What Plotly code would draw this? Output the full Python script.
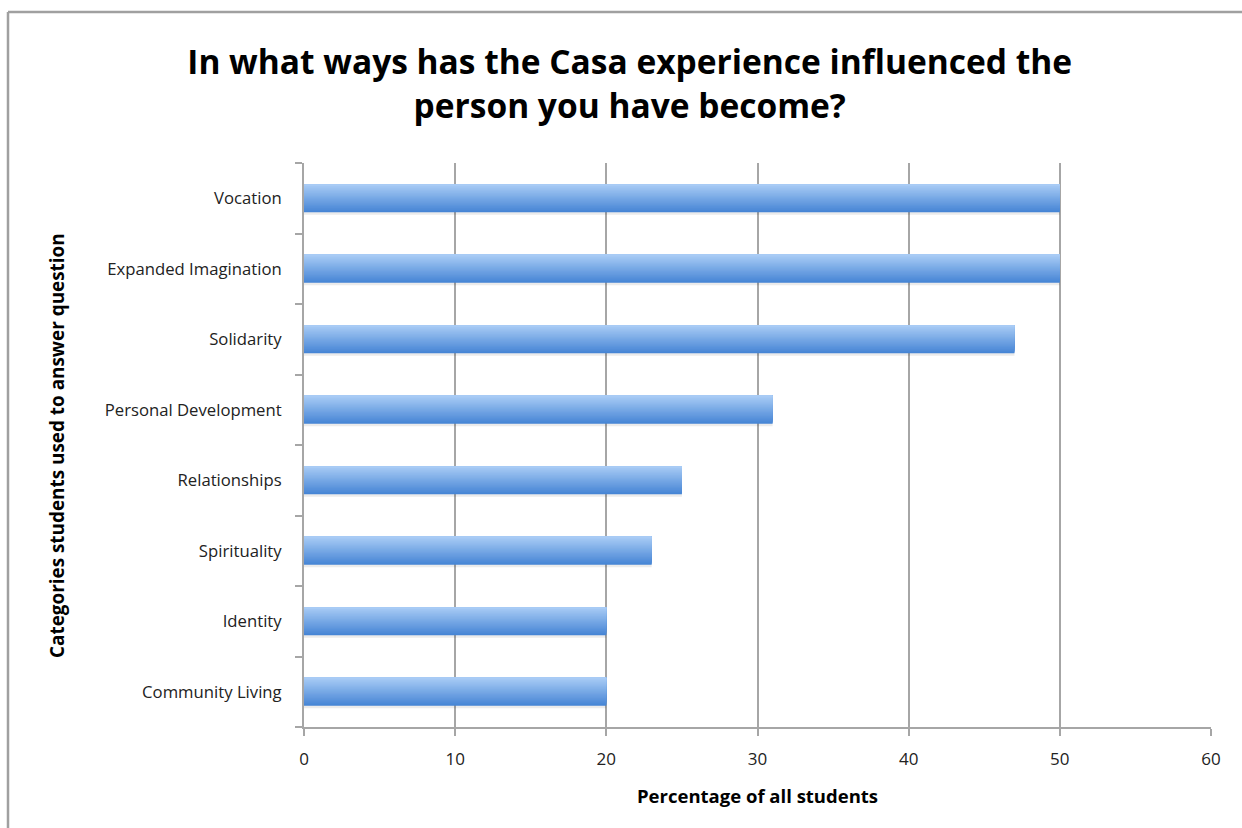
import plotly.graph_objects as go

# Survey categories (top to bottom as displayed) and share of students
categories = ["Vocation", "Expanded Imagination", "Solidarity", "Personal Development",
              "Relationships", "Spirituality", "Identity", "Community Living"]
percentages = [50, 50, 47, 31, 25, 23, 20, 20]
x_ticks = [0, 10, 20, 30, 40, 50, 60]

# plot bottom-up so the first category sits at the top
cats_bu = categories[::-1]
vals_bu = percentages[::-1]

# plot area geometry in page pixels
W, H = 1242, 828
M_L, M_R, M_T, M_B = 304, 31, 163, 101
plot_w = W - M_L - M_R
plot_h = H - M_T - M_B


def px_x(p):
    return (p - M_L) / plot_w


def px_y(p):
    return (H - M_B - p) / plot_h


fig = go.Figure()

bar_w = 0.4
# soft drop shadow beneath each bar
fig.add_trace(go.Bar(
    y=cats_bu, x=vals_bu, orientation="h",
    width=bar_w, offset=-bar_w / 2 - 0.035,
    marker=dict(color="rgba(0,0,0,0.08)", line=dict(width=0)),
    hoverinfo="skip", showlegend=False,
))

# vertical gradient: overlapping layers, each lighter one covering the upper part
bottom_rgb = (70, 133, 213)
top_rgb = (168, 203, 245)
n_bands = 24
band = bar_w / n_bands
for i in range(n_bands):
    t = i / (n_bands - 1)
    r, g, b = (round(bottom_rgb[k] + (top_rgb[k] - bottom_rgb[k]) * t) for k in range(3))
    fig.add_trace(go.Bar(
        y=cats_bu, x=vals_bu, orientation="h",
        width=bar_w - i * band, offset=-bar_w / 2 + i * band,
        marker=dict(color=f"rgb({r},{g},{b})", line=dict(width=0)),
        hoverinfo="skip", showlegend=False,
    ))

grey = "#a6a6a6"
fig.update_layout(
    width=W, height=H,
    barmode="overlay",
    paper_bgcolor="white", plot_bgcolor="white",
    margin=dict(l=M_L, r=M_R, t=M_T, b=M_B),
    font=dict(family="Open Sans", color="#222222"),
    title=dict(
        text="In what ways has the Casa experience influenced the<br>person you have become?",
        x=0.507, xanchor="center", y=0.9105, yanchor="middle",
        font=dict(family="Open Sans", size=33.5, color="black", weight="bold"),
    ),
    xaxis=dict(
        range=[0, 60], tickvals=x_ticks, ticktext=[str(v) for v in x_ticks],
        showgrid=True, gridcolor=grey, gridwidth=1.5,
        showline=True, linecolor=grey, linewidth=2,
        ticks="outside", ticklen=7, tickcolor=grey, tickwidth=1.5,
        tickfont=dict(size=17, color="#222222"),
        ticklabelstandoff=9,
        zeroline=False,
    ),
    yaxis=dict(
        type="category", categoryorder="array", categoryarray=cats_bu,
        showgrid=False, showline=True, linecolor=grey, linewidth=2,
        ticks="outside", tickson="boundaries", ticklen=7,
        tickcolor=grey, tickwidth=1.5,
        tickfont=dict(size=16.7, color="#222222"),
        ticklabelstandoff=17,
        range=[-0.5, 7.5],
    ),
    annotations=[
        dict(text="Categories students used to answer question",
             xref="paper", yref="paper",
             x=px_x(57), y=px_y(446), xanchor="center", yanchor="middle",
             textangle=-90, showarrow=False,
             font=dict(size=18.9, color="black", weight="bold")),
        dict(text="Percentage of all students",
             xref="paper", yref="paper",
             x=px_x(757), y=px_y(795), xanchor="center", yanchor="middle",
             showarrow=False,
             font=dict(size=18.5, color="black", weight="bold")),
    ],
    # outer frame edges (left and top)
    shapes=[
        dict(type="line", xref="paper", yref="paper",
             x0=px_x(8), x1=px_x(W), y0=px_y(12), y1=px_y(12),
             line=dict(color="#a0a0a0", width=2.5)),
        dict(type="line", xref="paper", yref="paper",
             x0=px_x(8), x1=px_x(8), y0=px_y(12), y1=px_y(H),
             line=dict(color="#a0a0a0", width=2.5)),
    ],
)

fig.write_html("out.html")
